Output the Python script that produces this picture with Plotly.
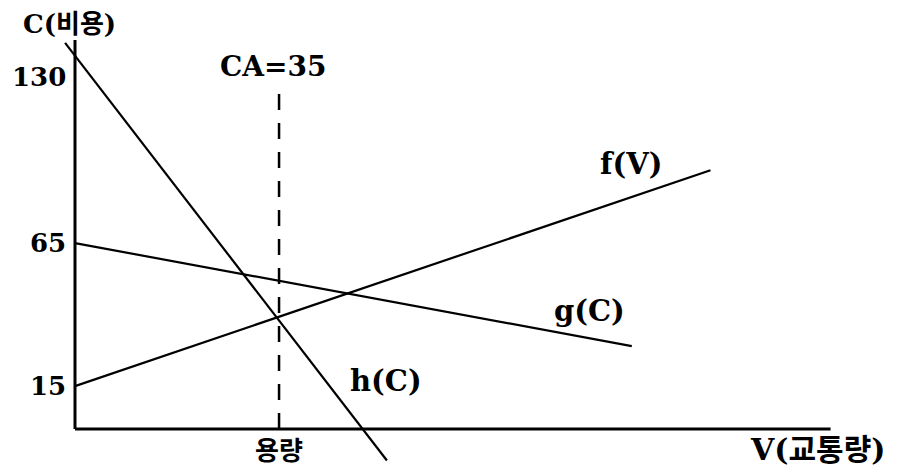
import plotly.graph_objects as go

# ---- data (diagram units: V = traffic volume, C = cost) ----
f_V = [0, 109]
f_C = [15, 90.5]
g_V = [0, 95.5]
g_C = [65, 29]
h_V = [-1.7, 53.5]
h_C = [135, -11]
capacity_V = 35
capacity_top_C = 121
y_axis_top_C = 136
x_axis_end_V = 129.6
tick_values = [15, 65, 130]
tick_labels = ["15", "65", "130"]

FONT = "DejaVu Serif, Noto Sans CJK KR, serif"
BLACK = "#000000"

# pixel scale of the diagram
PX_V = 5.83     # px per V unit
PX_C = 2.86     # px per C unit
ORIGIN_X = 67   # px of V=0 inside the figure
ORIGIN_Y = 421  # px of C=0 inside the figure
W, H = 909, 475

fig = go.Figure()

# axes drawn as lines
fig.add_trace(go.Scatter(x=[0, 0], y=[y_axis_top_C, 0], mode="lines",
                         line=dict(color=BLACK, width=3), hoverinfo="skip"))
fig.add_trace(go.Scatter(x=[0, x_axis_end_V], y=[0, 0], mode="lines",
                         line=dict(color=BLACK, width=3), hoverinfo="skip"))

# curves
for xs, ys in [(f_V, f_C), (g_V, g_C), (h_V, h_C)]:
    fig.add_trace(go.Scatter(x=xs, y=ys, mode="lines",
                             line=dict(color=BLACK, width=2.2), hoverinfo="skip"))

# capacity dashed line
fig.add_trace(go.Scatter(x=[capacity_V, capacity_V], y=[0, capacity_top_C], mode="lines",
                         line=dict(color=BLACK, width=2.5, dash="16px,13px"),
                         hoverinfo="skip"))

ann = []
# tick labels
for v, t in zip(tick_values, tick_labels):
    a = dict(x=0, y=v, text="<b>" + t + "</b>", showarrow=False,
             xanchor="right", yanchor="middle",
             xshift=-7, font=dict(family=FONT, size=26, color=BLACK))
    if v == max(tick_values):
        a.update(yanchor="top", yshift=-3)
    ann.append(a)

def label(x, y, text, size=26, **kw):
    d = dict(x=x, y=y, text="<b>" + text + "</b>", showarrow=False,
             xanchor="center", yanchor="middle",
             font=dict(family=FONT, size=size, color=BLACK))
    d.update(kw)
    ann.append(d)

# axis title at the very top: anchor its top to the top of the figure
label(-0.86, ORIGIN_Y / PX_C, "C(비용)", size=26, yanchor="top", borderpad=0)
label(capacity_V, 126.9, "CA=35", size=28, xshift=-6)
label(capacity_V, -7.7, "용량", size=26)
label(127.4, -7.0, "V(교통량)", size=30)
label(95.4, 92.7, "f(V)", size=29)
label(88.3, 41.3, "g(C)", size=29)
label(53.3, 16.8, "h(C)", size=29)

fig.update_layout(
    width=W, height=H, autosize=False,
    margin=dict(l=0, r=0, t=0, b=0),
    paper_bgcolor="white", plot_bgcolor="white",
    showlegend=False,
    xaxis=dict(range=[-ORIGIN_X / PX_V, (W - ORIGIN_X) / PX_V], visible=False, fixedrange=True),
    yaxis=dict(range=[-(H - ORIGIN_Y) / PX_C, ORIGIN_Y / PX_C], visible=False, fixedrange=True),
    annotations=ann,
)

fig.write_html("out.html")
